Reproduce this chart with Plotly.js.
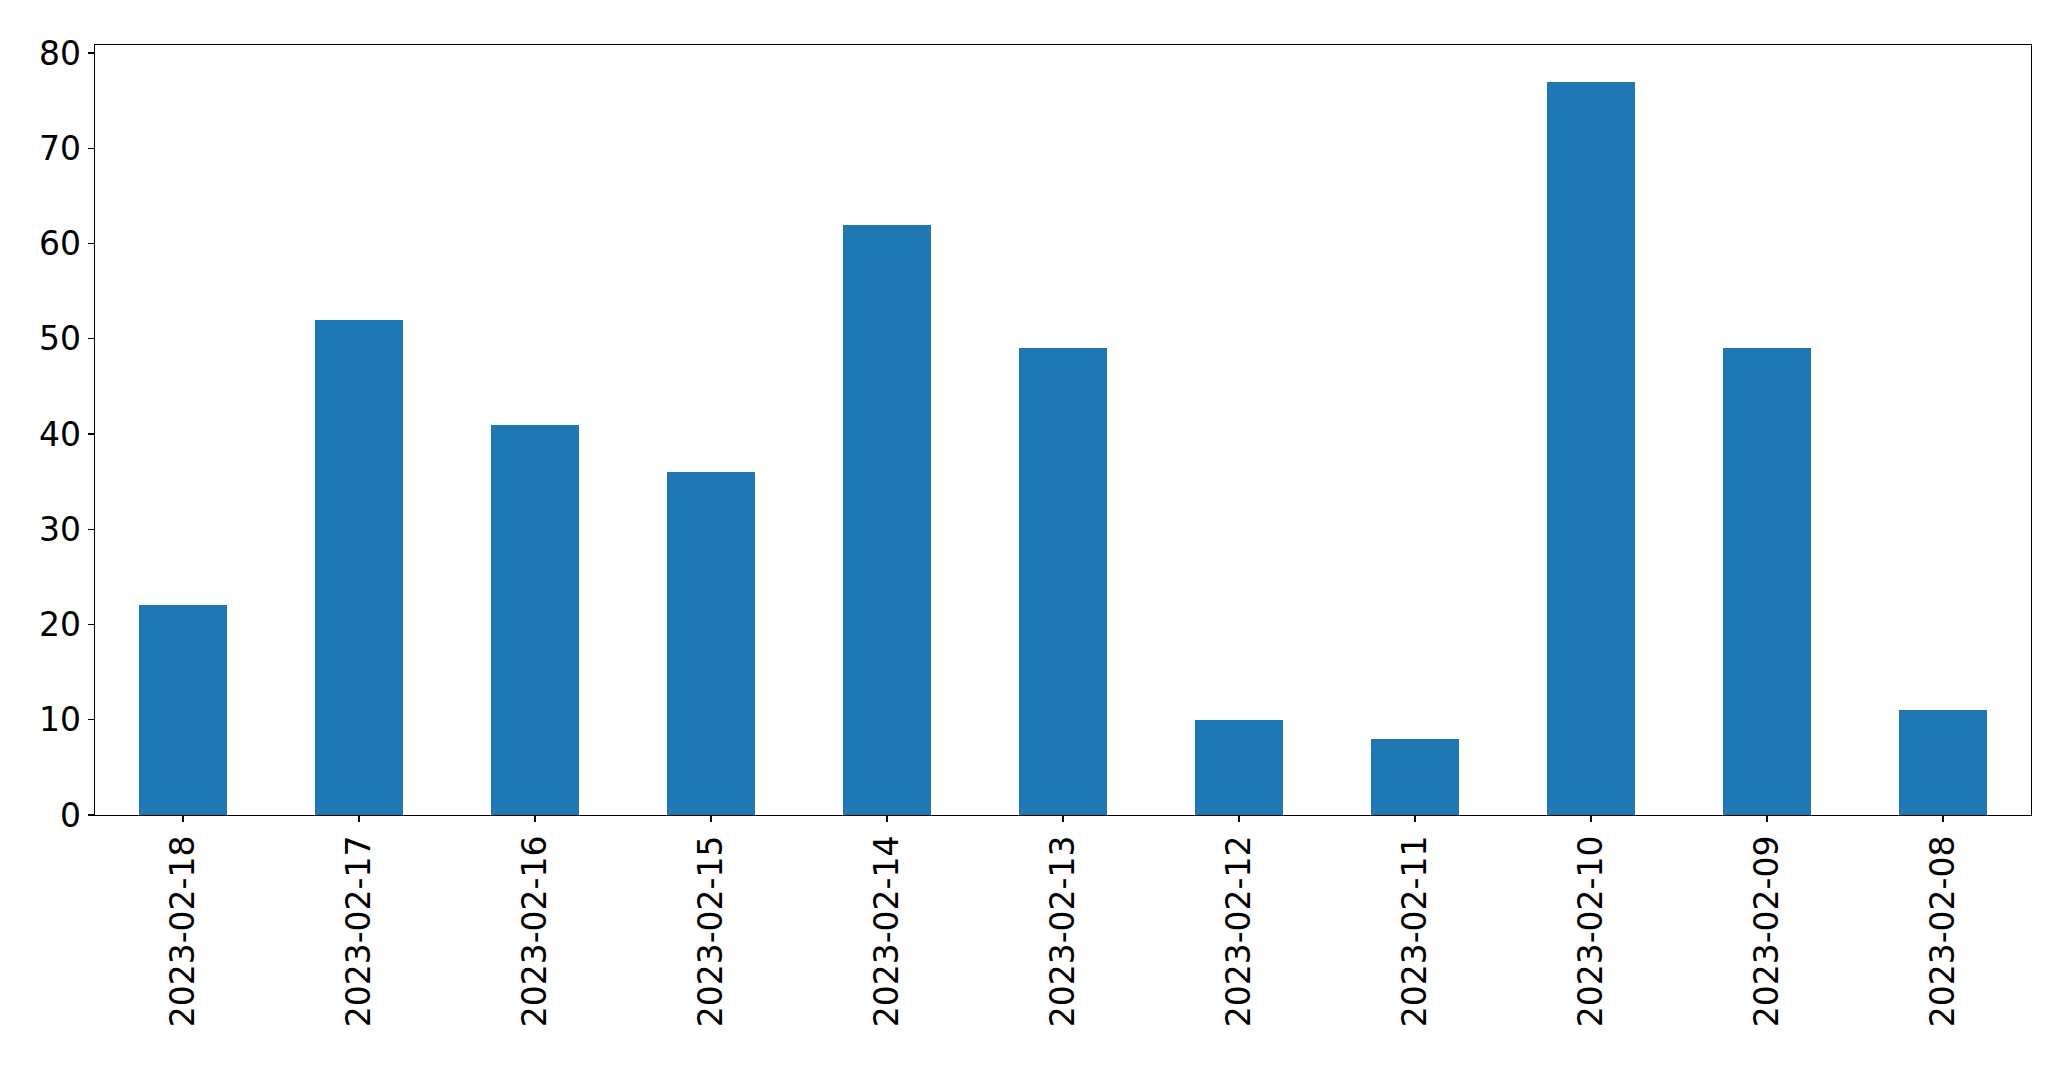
<!DOCTYPE html>
<html>
<head>
<meta charset="utf-8">
<script src="https://cdn.plot.ly/plotly-3.0.1.min.js"></script>
<style>
  html, body { margin: 0; padding: 0; background: #fff; }
  #chart { width: 2071px; height: 1067px; }
</style>
</head>
<body>
<div id="chart"></div>
<script>
// dates, newest first, as in the picture
var dates = ['2023-02-18', '2023-02-17', '2023-02-16', '2023-02-15', '2023-02-14',
             '2023-02-13', '2023-02-12', '2023-02-11', '2023-02-10', '2023-02-09', '2023-02-08']
var counts = [22, 52, 41, 36, 62, 49, 10, 8, 77, 49, 11]
var yTicks = [0, 10, 20, 30, 40, 50, 60, 70, 80]

var trace = {
  x: dates,
  y: counts,
  type: 'bar',
  width: 0.5,
  marker: {color: '#1f77b4', line: {width: 0}},
  hoverinfo: 'x+y'
}

var layout = {
  width: 2071,
  height: 1067,
  margin: {l: 95, r: 40, t: 45, b: 252, pad: 0},
  paper_bgcolor: '#fff',
  plot_bgcolor: '#fff',
  font: {family: 'DejaVu Sans', size: 33, color: '#000'},
  showlegend: false,
  bargap: 0,
  xaxis: {
    type: 'category',
    range: [-0.5, 10.5],
    tickangle: -90,
    ticks: 'outside',
    ticklen: 6,
    tickwidth: 1.3,
    tickcolor: '#000',
    showline: true,
    linecolor: '#000',
    linewidth: 1.3,
    mirror: true,
    showgrid: false,
    zeroline: false,
    tickfont: {family: 'DejaVu Sans', size: 33, color: '#000'}
  },
  yaxis: {
    range: [0, 80.85],
    tickvals: yTicks,
    ticks: 'outside',
    ticklen: 6,
    tickwidth: 1.3,
    tickcolor: '#000',
    showline: true,
    linecolor: '#000',
    linewidth: 1.3,
    mirror: true,
    showgrid: false,
    zeroline: false,
    tickfont: {family: 'DejaVu Sans', size: 33, color: '#000'}
  }
}

Plotly.newPlot('chart', [trace], layout, {displayModeBar: false, staticPlot: true})
</script>
</body>
</html>
